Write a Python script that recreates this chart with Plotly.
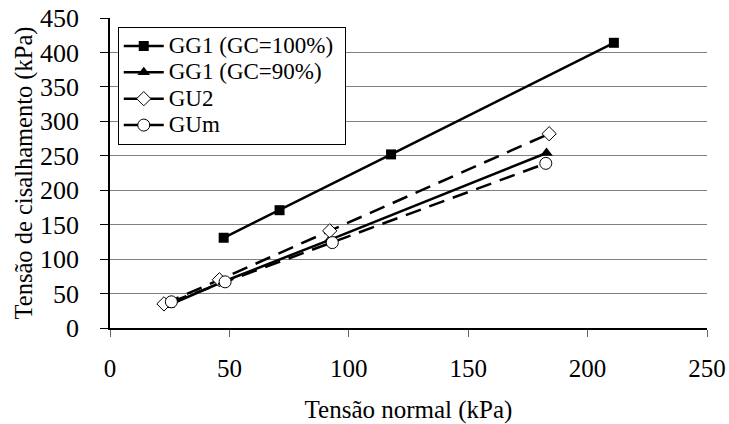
import plotly.graph_objects as go

# Data
gg1_100_x = [47.6, 71.0, 117.7, 211.0]
gg1_100_y = [131, 171, 252, 414]

gg1_90_x = [24.5, 46.5, 92.0, 182.8]
gg1_90_y = [33, 66, 128, 254]

gu2_x = [22.6, 45.8, 92.0, 183.9]
gu2_y = [35, 70, 141, 282]

gum_x = [25.7, 48.2, 93.1, 182.5]
gum_y = [38, 67, 124, 239]

series_names = ["GG1 (GC=100%)", "GG1 (GC=90%)", "GU2", "GUm"]

x_ticks = [0, 50, 100, 150, 200, 250]
y_ticks = [0, 50, 100, 150, 200, 250, 300, 350, 400, 450]

FONT = "'Liberation Serif', 'Times New Roman', Times, serif"


def lg(name):
    # legend text rendered larger than the legend's row spacing font
    return "<span style='font-size:23px'>" + name + "&nbsp;</span>"


fig = go.Figure()
fig.add_trace(go.Scatter(
    x=gg1_100_x, y=gg1_100_y, name=lg(series_names[0]), mode="lines+markers",
    line=dict(color="black", width=2.5),
    marker=dict(symbol="square", size=10, color="black")))
fig.add_trace(go.Scatter(
    x=gg1_90_x, y=gg1_90_y, name=lg(series_names[1]), mode="lines+markers",
    line=dict(color="black", width=2.5),
    marker=dict(symbol="triangle-up", size=11, color="black")))
fig.add_trace(go.Scatter(
    x=gu2_x, y=gu2_y, name=lg(series_names[2]), mode="lines+markers",
    line=dict(color="black", width=2.5, dash="16px,9px"),
    marker=dict(symbol="diamond", size=11, color="white",
                line=dict(color="black", width=1))))
fig.add_trace(go.Scatter(
    x=gum_x, y=gum_y, name=lg(series_names[3]), mode="lines+markers",
    line=dict(color="black", width=2.5, dash="16px,9px"),
    marker=dict(symbol="circle", size=12, color="white",
                line=dict(color="black", width=1))))

fig.update_layout(
    width=729, height=424,
    margin=dict(l=110, r=22, t=18, b=96),
    paper_bgcolor="white", plot_bgcolor="white",
    font=dict(family=FONT, size=24, color="black"),
    showlegend=True,
    legend=dict(
        x=0.013, y=0.972, xanchor="left", yanchor="top",
        bgcolor="white", bordercolor="black", borderwidth=1,
        font=dict(family=FONT, size=18, color="black"),
        itemwidth=40, tracegroupgap=0,
    ),
    xaxis=dict(
        range=[0, 250], tickvals=x_ticks, ticktext=[str(v) for v in x_ticks],
        showgrid=False, zeroline=False, automargin=False,
        showline=True, linecolor="black", linewidth=1.5,
        ticks="outside", ticklen=7, tickcolor="#666666", tickwidth=1,
        ticklabelstandoff=10,
        tickfont=dict(family=FONT, size=25, color="black"),
        title=dict(text="Tensão normal (kPa)", font=dict(family=FONT, size=25, color="black"), standoff=20),
    ),
    yaxis=dict(
        range=[0, 450], tickvals=y_ticks, ticktext=[str(v) for v in y_ticks],
        showgrid=True, gridcolor="#808080", gridwidth=1,
        zeroline=False, automargin=False,
        showline=True, linecolor="black", linewidth=1.5,
        ticks="outside", ticklen=8, tickcolor="black", tickwidth=1,
        ticklabelstandoff=16,
        tickfont=dict(family=FONT, size=26, color="black"),
        title=dict(text="Tensão de cisalhamento (kPa)", font=dict(family=FONT, size=24.5, color="black"), standoff=0),
    ),
)

fig.write_html("out.html")
